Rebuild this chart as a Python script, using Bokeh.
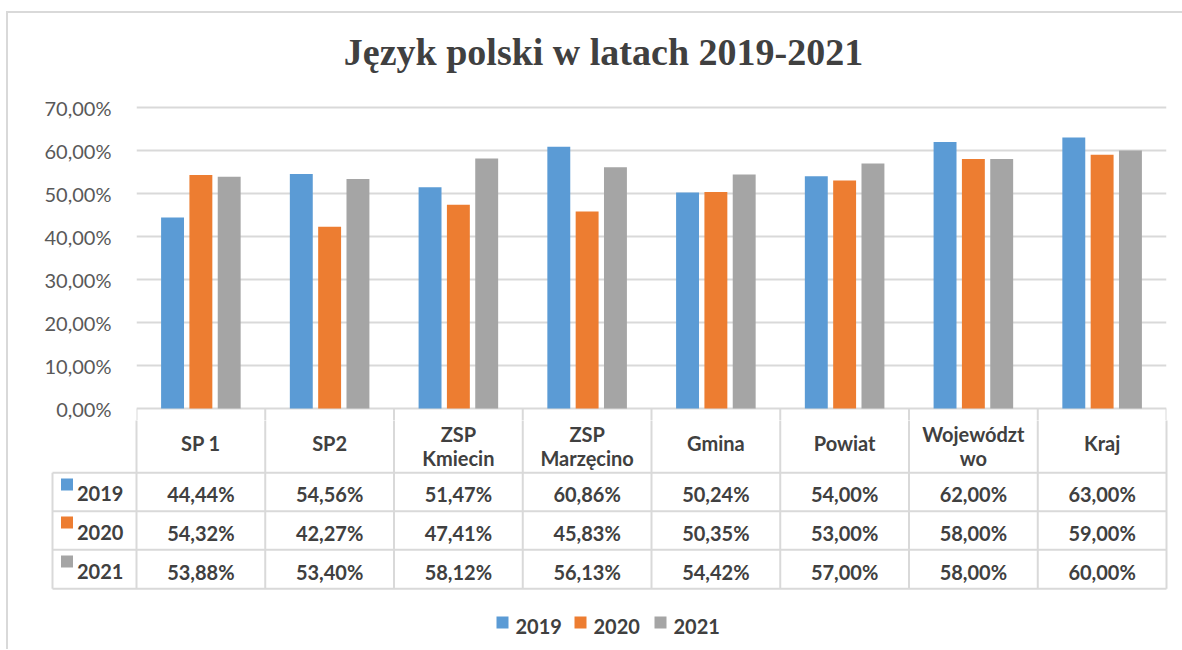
from bokeh.plotting import figure
from bokeh.layouts import column
from bokeh.models import Range1d, FixedTicker
from bokeh.core.properties import value
from bokeh.embed import file_html
from bokeh.resources import INLINE

# ---------------- data ----------------
categories = ["SP 1", "SP2", "ZSP\nKmiecin", "ZSP\nMarzęcino", "Gmina", "Powiat", "Województ\nwo", "Kraj"]
years = ["2019", "2020", "2021"]
values_2019 = [0.4444, 0.5456, 0.5147, 0.6086, 0.5024, 0.5400, 0.6200, 0.6300]
values_2020 = [0.5432, 0.4227, 0.4741, 0.4583, 0.5035, 0.5300, 0.5800, 0.5900]
values_2021 = [0.5388, 0.5340, 0.5812, 0.5613, 0.5442, 0.5700, 0.5800, 0.6000]
series = [values_2019, values_2020, values_2021]
colors = ["#5B9BD5", "#ED7D31", "#A5A5A5"]
tick_values = [0.0, 0.1, 0.2, 0.3, 0.4, 0.5, 0.6, 0.7]
tick_labels = ["0,00%", "10,00%", "20,00%", "30,00%", "40,00%", "50,00%", "60,00%", "70,00%"]
title_text = "Język polski w latach 2019-2021"

def fmt(v):
    return f"{v*100:.2f}%".replace(".", ",")

TXT = "#404040"
GRID = "#D9D9D9"
n = len(categories)
centers = [i + 0.5 for i in range(n)]
offsets = [-0.22, 0.0, 0.22]
bar_w = 0.178
PX = 128.75   # pixels per category
PY = 430.0    # pixels per 100%

# page coordinates: content origin at (8, 13); plot frame x 136..1166, 0% at y=408
# ---------------- chart ----------------
p1 = figure(width=1166, height=407, output_backend="svg", toolbar_location=None,
            x_range=Range1d(0, n), y_range=Range1d(-12 / PY, 395 / PY),
            x_axis_location=None, min_border_top=0, min_border_bottom=0,
            min_border_left=128, min_border_right=8)
p1.frame_align = False
p1.outline_line_color = None
p1.xgrid.visible = False
p1.ygrid.ticker = FixedTicker(ticks=tick_values)
p1.ygrid.grid_line_color = GRID
p1.ygrid.grid_line_width = 2
ax = p1.yaxis[0]
ax.ticker = FixedTicker(ticks=tick_values)
ax.major_label_overrides = {t: l for t, l in zip(tick_values, tick_labels)}
ax.axis_line_color = None
ax.major_tick_line_color = None
ax.minor_tick_line_color = None
ax.major_label_standoff = 19
ax.major_label_text_font = "Lato"
ax.major_label_text_font_size = "20px"
ax.major_label_text_color = "#595959"

for vals, col, off in zip(series, colors, offsets):
    p1.vbar(x=[c + off for c in centers], top=vals, width=bar_w, bottom=0,
            fill_color=col, line_color=None)

# top part of the table's column lines (below the 0% line)
p1.segment(x0=list(range(n + 1)), x1=list(range(n + 1)), y0=[0] * (n + 1), y1=[-20 / PY] * (n + 1),
           line_color=GRID, line_width=2)

p1.text(x=[(603 - 136) / PX], y=[(408 - 51) / PY], text=[title_text],
        text_align="center", text_baseline="alphabetic",
        text_font=value("Liberation Serif"), text_font_style="bold",
        text_font_size="38px", text_color=TXT)

# ---------------- data table + legend ----------------
xl = (8 - 136) / PX
xr = (1174 - 136) / PX
p2 = figure(width=1166, height=222, output_backend="svg", toolbar_location=None,
            x_range=Range1d(xl, xr), y_range=Range1d(642, 420),
            x_axis_location=None, y_axis_location=None,
            min_border_top=0, min_border_bottom=0, min_border_left=0, min_border_right=0)
p2.frame_align = False
p2.outline_line_color = None
p2.grid.visible = False

left_col = (52 - 136) / PX
row_lines = [472.3, 510.7, 549.3, 588.3]
p2.segment(x0=list(range(n + 1)), x1=list(range(n + 1)), y0=[415] * (n + 1), y1=[588.3] * (n + 1),
           line_color=GRID, line_width=2)
p2.segment(x0=[left_col], x1=[left_col], y0=[472.3], y1=[588.3], line_color=GRID, line_width=2)
p2.segment(x0=[left_col] * 4, x1=[n] * 4, y0=row_lines, y1=row_lines, line_color=GRID, line_width=2)

font = value("Lato")
# header cells: one- or two-line category names
hx, hy, ht = [], [], []
for c, name in zip(centers, categories):
    parts = name.split("\n")
    ys = [442] if len(parts) == 1 else [433, 457.5]
    for part, yy in zip(parts, ys):
        hx.append(c); hy.append(yy); ht.append(part)
p2.text(x=hx, y=hy, text=ht, text_align="center", text_baseline="middle",
        text_font=font, text_font_style="bold", text_font_size="20px", text_color=TXT)

row_text_y = [493, 532, 571]
row_key_y = [484, 522, 561]
for vals, col, ty, ky, yr in zip(series, colors, row_text_y, row_key_y, years):
    p2.text(x=centers, y=[ty] * n, text=[fmt(v) for v in vals], text_align="center",
            text_baseline="middle", text_font=font, text_font_style="bold",
            text_font_size="20px", text_color=TXT)
    p2.scatter(x=[(66.5 - 136) / PX], y=[ky], marker="square", size=12,
               fill_color=col, line_color=None)
    p2.text(x=[(76.5 - 136) / PX], y=[ty], text=[yr], text_align="left",
            text_baseline="middle", text_font=font, text_font_style="bold",
            text_font_size="20px", text_color=TXT)

leg_key_x = [502, 580, 660]
leg_txt_x = [515, 593, 673]
for col, kx, tx, yr in zip(colors, leg_key_x, leg_txt_x, years):
    p2.scatter(x=[(kx - 136) / PX], y=[622], marker="square", size=12,
               fill_color=col, line_color=None)
    p2.text(x=[(tx - 136) / PX], y=[625.5], text=[yr], text_align="left",
            text_baseline="middle", text_font=font, text_font_style="bold",
            text_font_size="20px", text_color=TXT)

layout = column(p1, p2, styles={"border-top": "2px solid #D9D9D9",
                                "border-left": "2px solid #D9D9D9",
                                "margin-top": "11px", "margin-left": "6px",
                                "padding-right": "8px", "padding-bottom": "7px"})
open("out.html", "w").write(file_html(layout, INLINE))
